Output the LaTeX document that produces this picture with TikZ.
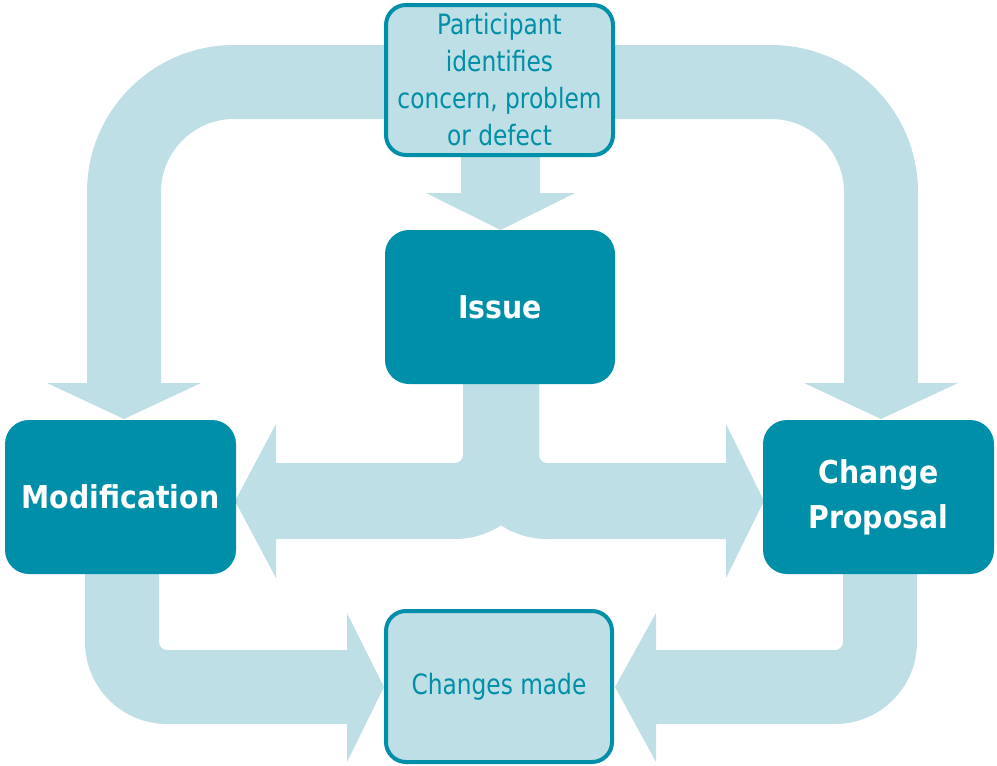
\documentclass[tikz,border=0pt]{standalone}
\usepackage{fontspec}
\setmainfont{DejaVu Sans Condensed}[FakeStretch=0.925]
\newfontfamily\headfont{DejaVu Sans Condensed}
\definecolor{tealdark}{RGB}{0,143,168}
\definecolor{tealpale}{RGB}{190,223,229}
\begin{document}
\begin{tikzpicture}[x=1pt,y=-1pt,
  band/.style={fill=tealpale,draw=none},
  darkbox/.style={draw=none,fill=tealdark,rounded corners=24pt,text=white,
    font=\headfont\fontsize{31.5}{45}\selectfont\bfseries,align=center,inner sep=0pt},
  lightbox/.style={draw=tealdark,line width=4pt,fill=tealpale,rounded corners=20pt,
    text=tealdark,font=\fontsize{28}{37}\selectfont,align=center,inner sep=0pt}]
\useasboundingbox (0,0) rectangle (997,766);

% top-left loop arrow
\fill[band] (400,45) -- (234,45) .. controls (152.8,45) and (87,110.8) .. (87,192)
  -- (87,383) -- (47,383) -- (124,419) -- (201,383) -- (161,383) -- (161,192)
  .. controls (161,151.7) and (193.7,119) .. (234,119) -- (400,119) -- cycle;
% top-right loop arrow
\fill[band] (600,45) -- (771,45) .. controls (852.2,45) and (918,110.8) .. (918,192)
  -- (918,383) -- (958,383) -- (881,419) -- (804,383) -- (844,383) -- (844,192)
  .. controls (844,151.7) and (811.3,119) .. (771,119) -- (600,119) -- cycle;
% participant -> issue
\fill[band] (461,150) -- (461,193) -- (426,193) -- (500.5,230) -- (575,193)
  -- (540,193) -- (540,150) -- cycle;
% issue -> modification
\fill[band] (463,380) -- (463,455) .. controls (463,459.4) and (459.4,463) .. (455,463)
  -- (276,463) -- (276,424) -- (235,501) -- (276,578) -- (276,539) -- (455,539)
  .. controls (501.4,539) and (539,501.4) .. (539,455) -- (539,380) -- cycle;
% issue -> change proposal
\fill[band] (539,380) -- (539,455) .. controls (539,459.4) and (542.6,463) .. (547,463)
  -- (726,463) -- (726,424) -- (764,501) -- (726,578) -- (726,539) -- (547,539)
  .. controls (500.6,539) and (463,501.4) .. (463,455) -- (463,380) -- cycle;
% modification -> changes made
\fill[band] (85,570) -- (85,642) .. controls (85,687.3) and (121.7,724) .. (167,724)
  -- (347,724) -- (347,762) -- (384,687) -- (347,613) -- (347,650) -- (167,650)
  .. controls (162.6,650) and (159,646.4) .. (159,642) -- (159,570) -- cycle;
% change proposal -> changes made
\fill[band] (917,570) -- (917,642) .. controls (917,687.3) and (880.3,724) .. (835,724)
  -- (656,724) -- (656,762) -- (615,687) -- (656,613) -- (656,650) -- (835,650)
  .. controls (839.4,650) and (843,646.4) .. (843,642) -- (843,570) -- cycle;

\node[lightbox,minimum width=227pt,minimum height=150pt] (part) at (499.5,80)
  {Participant\\identifies\\concern, problem\\or defect};
\node[darkbox,minimum width=230pt,minimum height=154pt] (issue) at (500,307) {Issue};
\node[darkbox,minimum width=231pt,minimum height=154pt] (mod) at (120.5,497) {Modification};
\node[darkbox,minimum width=231pt,minimum height=154pt] (cp) at (878.5,497) {Change\\Proposal};
\node[lightbox,minimum width=226pt,minimum height=151pt] (made) at (499,686.5) {Changes made};
\end{tikzpicture}
\end{document}
